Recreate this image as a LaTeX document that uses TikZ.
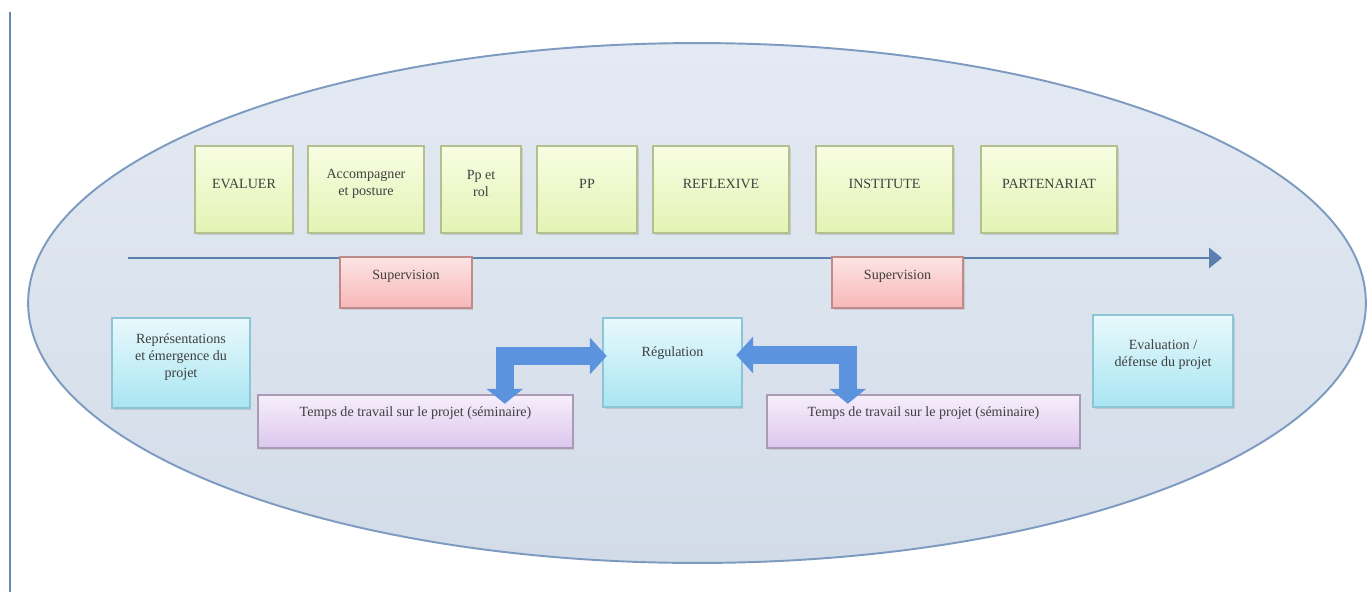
\documentclass[tikz,border=0pt]{standalone}
\usepackage{fontspec}
\setmainfont{Liberation Serif}
\usetikzlibrary{arrows.meta,shadows}
\definecolor{framecol}{HTML}{6A87B0}
\definecolor{ellborder}{HTML}{7D9AC0}
\definecolor{elltop}{HTML}{E4EAF3}
\definecolor{ellbot}{HTML}{D2DCE8}
\definecolor{linecol}{HTML}{5B7FAE}
\definecolor{arrowcol}{HTML}{5B93DE}
\definecolor{greentop}{HTML}{F8FDE2}
\definecolor{greenbot}{HTML}{E3F3B4}
\definecolor{greenline}{HTML}{B3BF8C}
\definecolor{pinktop}{HTML}{FDE4E4}
\definecolor{pinkbot}{HTML}{F7B7B7}
\definecolor{pinkline}{HTML}{C08A8A}
\definecolor{cyantop}{HTML}{E8F9FC}
\definecolor{cyanbot}{HTML}{A9E5F2}
\definecolor{cyanline}{HTML}{8CC6D6}
\definecolor{purptop}{HTML}{F7EEFA}
\definecolor{purpbot}{HTML}{DBC7EE}
\definecolor{purpline}{HTML}{A99BB6}
\definecolor{textgray}{HTML}{404040}

\tikzset{
  box/.style={rectangle, line width=1.4pt, inner sep=0pt,
    drop shadow={opacity=0.25, shadow xshift=0.03cm, shadow yshift=-0.04cm}},
  txt/.style={font=\fontsize{8}{9.6}\selectfont, text=textgray, align=center, yshift=0.12cm},
  greenbox/.style={box, draw=greenline, top color=greentop, bottom color=greenbot, minimum height=1.74cm},
  pinkbox/.style={box, draw=pinkline, top color=pinktop, bottom color=pinkbot, minimum height=1.02cm},
  cyanbox/.style={box, draw=cyanline, top color=cyantop, bottom color=cyanbot},
  purplebox/.style={box, draw=purpline, top color=purptop, bottom color=purpbot, minimum height=1.06cm},
  bigarrow/.style={draw=arrowcol, line width=0.36cm,
    {Triangle[width=0.72cm, length=0.3cm]}-{Triangle[width=0.72cm, length=0.34cm]}}
}

\begin{document}
\begin{tikzpicture}[x=0.02cm, y=-0.02cm]
\useasboundingbox (0, 0) rectangle (1371, 592);
\draw[framecol, line width=1.1pt] (10, 12) -- (10, 592);
\draw[ellborder, line width=1.1pt, top color=elltop, bottom color=ellbot]
  (697, 303) ellipse [x radius=13.38cm, y radius=5.2cm];

% time line
\coordinate (start) at (128, 258);
\coordinate (end) at (1222, 258);
\draw[linecol, line width=1.7pt, -{Triangle[width=0.4cm, length=0.26cm]}] (start) -- (end);

\node[greenbox, minimum width=1.96cm, label={[txt]center:EVALUER}] (evaluer) at (244, 189.5) {};
\node[greenbox, minimum width=2.32cm, label={[txt]center:{Accompagner\\et posture}}] (accomp) at (366, 189.5) {};
\node[greenbox, minimum width=1.6cm, label={[txt]center:{Pp et\\rol}}] (ppetrol) at (481, 189.5) {};
\node[greenbox, minimum width=2cm, label={[txt]center:PP}] (pp) at (587, 189.5) {};
\node[greenbox, minimum width=2.72cm, label={[txt]center:REFLEXIVE}] (reflexive) at (721, 189.5) {};
\node[greenbox, minimum width=2.74cm, label={[txt]center:INSTITUTE}] (institute) at (884.5, 189.5) {};
\node[greenbox, minimum width=2.72cm, label={[txt]center:PARTENARIAT}] (partenariat) at (1049, 189.5) {};

\node[pinkbox, minimum width=2.64cm, label={[txt]center:Supervision}] (sup1) at (406, 282.5) {};
\node[pinkbox, minimum width=2.62cm, label={[txt]center:Supervision}] (sup2) at (897.5, 282.5) {};

\node[cyanbox, minimum width=2.76cm, minimum height=1.8cm,
  label={[txt]center:{Représentations\\et émergence du\\projet}}] (repr) at (181, 363) {};
\node[cyanbox, minimum width=2.78cm, minimum height=1.78cm,
  label={[txt, yshift=0.06cm]center:Régulation}] (reg) at (672.5, 362.5) {};
\node[cyanbox, minimum width=2.8cm, minimum height=1.84cm,
  label={[txt]center:{Evaluation /\\défense du projet}}] (evalproj) at (1163, 361) {};

\node[purplebox, minimum width=6.3cm, label={[txt, yshift=0.04cm]center:Temps de travail sur le projet (séminaire)}] (temps1) at (415.5, 421.5) {};
\node[purplebox, minimum width=6.26cm, label={[txt, yshift=0.04cm]center:Temps de travail sur le projet (séminaire)}] (temps2) at (923.5, 421.5) {};

\draw[bigarrow] ([xshift=4.96cm, yshift=-0.2cm]temps1.north west) |- ([xshift=0.1cm, yshift=0.13cm]reg.west);
\draw[bigarrow] ([xshift=1.64cm, yshift=-0.2cm]temps2.north west) |- ([xshift=-0.14cm, yshift=0.15cm]reg.east);
\end{tikzpicture}
\end{document}
